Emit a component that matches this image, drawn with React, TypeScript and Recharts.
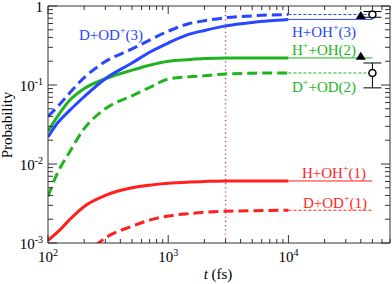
import React from 'react';
import { ComposedChart, Line, XAxis, YAxis, Scatter, ErrorBar, ReferenceLine, Customized } from 'recharts';

// time grid (fs) for the computed curves
const times = [100, 120, 150, 200, 300, 500, 700, 1000, 1500, 2000, 3000, 5000, 7000, 10000];
const hOH3 = [0.022, 0.033, 0.047, 0.071, 0.12, 0.19, 0.26, 0.34, 0.44, 0.49, 0.56, 0.62, 0.65, 0.676];
const dOD3 = [0.04, 0.053, 0.078, 0.124, 0.198, 0.286, 0.37, 0.48, 0.6, 0.65, 0.71, 0.75, 0.77, 0.78];
const hpOH2 = [0.026, 0.04, 0.063, 0.09, 0.12, 0.154, 0.178, 0.2, 0.21, 0.216, 0.22, 0.22, 0.22, 0.22];
const dpOD2 = [0.0039, 0.0077, 0.0139, 0.028, 0.05, 0.073, 0.093, 0.119, 0.127, 0.131, 0.138, 0.141, 0.142, 0.142];
const hOH1 = [0.00108, 0.00137, 0.00195, 0.0029, 0.004, 0.005, 0.0054, 0.0057, 0.0059, 0.006, 0.0061, 0.0061, 0.0061, 0.0061];
const dOD1 = [null, null, null, 0.00069, 0.00116, 0.00163, 0.00195, 0.0022, 0.00236, 0.00245, 0.00253, 0.00256, 0.00258, 0.0026];

// asymptotic extension of each curve
const extTimes = [10000, 50000];

// experimental points
const triangles = [
  { t: 40000, p: 0.77 },
  { t: 40000, p: 0.235 },
];
const circles = [
  { t: 50000, p: 0.78, err: [0.06, 0.07] },
  { t: 50000, p: 0.142, err: [0.05, 0.048] },
];

const xTicks = [100, 200, 300, 400, 500, 600, 700, 800, 900, 1000, 2000, 3000, 4000, 5000, 6000, 7000, 8000, 9000, 10000, 20000, 30000, 40000, 50000, 60000, 70000];
const yTicks = [0.001, 0.002, 0.003, 0.004, 0.005, 0.006, 0.007, 0.008, 0.009, 0.01, 0.02, 0.03, 0.04, 0.05, 0.06, 0.07, 0.08, 0.09, 0.1, 0.2, 0.3, 0.4, 0.5, 0.6, 0.7, 0.8, 0.9, 1];

const BLUE = '#2646ff';
const GREEN = '#1fb41f';
const RED = '#ff1f1f';
const AXIS = '#333';
const FONT = '"Liberation Serif", "Times New Roman", serif';

const series = (vals: (number | null)[]) => times.map((t, i) => ({ t, p: vals[i] }));
const ext = (v: number) => extTimes.map((t) => ({ t, p: v }));

const exponent = (v: number) => Math.round(Math.log10(v));
const isMajor = (v: number) => Math.abs(Math.log10(v) - exponent(v)) < 1e-9;

const BottomTick = (props: any) => {
  const { x, y, payload } = props;
  const v = payload.value;
  const major = isMajor(v);
  return (
    <g>
      <line x1={x} x2={x} y1={y} y2={y - (major ? 8 : 4)} stroke={AXIS} />
      {major && (
        <text x={x} y={y + 19} textAnchor="middle" fontFamily={FONT} fontSize={15} fill="#000">
          10<tspan dy={-6} fontSize={10}>{exponent(v)}</tspan>
        </text>
      )}
    </g>
  );
};

const TopTick = (props: any) => {
  const { x, y, payload } = props;
  const major = isMajor(payload.value);
  return <line x1={x} x2={x} y1={y} y2={y + (major ? 8 : 4)} stroke={AXIS} />;
};

const LeftTick = (props: any) => {
  const { x, y, payload } = props;
  const v = payload.value;
  const major = isMajor(v);
  const e = exponent(v);
  return (
    <g>
      <line x1={x} x2={x + (major ? 9 : 5)} y1={y} y2={y} stroke={AXIS} />
      {major && (
        <text x={x - 5} y={y + 6} textAnchor="end" fontFamily={FONT} fontSize={15} fill="#000">
          {e === 0 ? '1' : <>10<tspan dy={-6} fontSize={10}>{e}</tspan></>}
        </text>
      )}
    </g>
  );
};

const RightTick = (props: any) => {
  const { x, y, payload } = props;
  const major = isMajor(payload.value);
  return <line x1={x} x2={x - (major ? 9 : 5)} y1={y} y2={y} stroke={AXIS} />;
};

const Triangle = (props: any) => {
  const { cx, cy } = props;
  return <polygon points={`${cx - 5},${cy + 4} ${cx + 5},${cy + 4} ${cx},${cy - 4}`} fill="#000" />;
};

const OpenCircle = (props: any) => {
  const { cx, cy } = props;
  return <circle cx={cx} cy={cy} r={3.5} fill="#fff" stroke="#000" strokeWidth={1.5} />;
};

const Lbl = ({ x, y, color, parts }: { x: number; y: number; color: string; parts: [string, string, string] }) => (
  <text x={x} y={y} fontFamily={FONT} fontSize={15} fill={color}>
    {parts[0]}
    <tspan dy={-6} fontSize={10}>{parts[1]}</tspan>
    <tspan dy={6}>{parts[2]}</tspan>
  </text>
);

const Labels = () => (
  <g>
    <Lbl x={79} y={40} color={BLUE} parts={['D+OD', '+', '(3)']} />
    <Lbl x={292} y={37} color={BLUE} parts={['H+OH', '+', '(3)']} />
    <Lbl x={292} y={55} color={GREEN} parts={['H', '+', '+OH(2)']} />
    <Lbl x={292} y={92} color={GREEN} parts={['D', '+', '+OD(2)']} />
    <Lbl x={302} y={178} color={RED} parts={['H+OH', '+', '(1)']} />
    <Lbl x={303} y={208} color={RED} parts={['D+OD', '+', '(1)']} />
    <text x={12} y={125} transform="rotate(-90 12 125)" textAnchor="middle" fontFamily={FONT} fontSize={15} fill="#000">
      Probability
    </text>
    <text x={218} y={279} textAnchor="middle" fontFamily={FONT} fontSize={15} fill="#000">
      <tspan fontStyle="italic">t</tspan> (fs)
    </text>
  </g>
);

const thick = { strokeWidth: 3, dot: false, isAnimationActive: false, type: 'monotone' as const };
const thin = { strokeWidth: 1, dot: false, isAnimationActive: false, type: 'linear' as const };

export default function App() {
  return (
    <div style={{ position: 'absolute', left: 0, top: 0, background: '#fff' }}>
      <ComposedChart width={392} height={284} margin={{ top: 0, right: 0, bottom: 0, left: 8 }}>
        <XAxis
          dataKey="t"
          type="number"
          scale="log"
          domain={[100, 70000]}
          allowDataOverflow
          ticks={xTicks}
          interval={0}
          height={41}
          tickSize={0}
          tickMargin={0}
          stroke={AXIS}
          tick={BottomTick}
        />
        <XAxis
          xAxisId="top"
          orientation="top"
          dataKey="t"
          type="number"
          scale="log"
          domain={[100, 70000]}
          allowDataOverflow
          ticks={xTicks}
          interval={0}
          height={6}
          tickSize={0}
          tickMargin={0}
          stroke={AXIS}
          tick={TopTick}
        />
        <YAxis
          type="number"
          scale="log"
          domain={[0.001, 1]}
          allowDataOverflow
          ticks={yTicks}
          interval={0}
          width={40}
          tickSize={0}
          tickMargin={0}
          stroke={AXIS}
          tick={LeftTick}
        />
        <YAxis
          yAxisId="right"
          orientation="right"
          type="number"
          scale="log"
          domain={[0.001, 1]}
          allowDataOverflow
          ticks={yTicks}
          interval={0}
          width={2}
          tickSize={0}
          tickMargin={0}
          stroke={AXIS}
          tick={RightTick}
        />
        <ReferenceLine x={3000} stroke="#b0507a" strokeDasharray="1.2 3" strokeWidth={1.5} />

        <Line data={ext(0.0026)} dataKey="p" stroke={RED} strokeDasharray="3 2" {...thin} />
        <Line data={ext(0.0061)} dataKey="p" stroke={RED} {...thin} />
        <Line data={ext(0.142)} dataKey="p" stroke={GREEN} strokeDasharray="3 2" {...thin} />
        <Line data={ext(0.22)} dataKey="p" stroke={GREEN} {...thin} />
        <Line data={ext(0.78)} dataKey="p" stroke={BLUE} strokeDasharray="3 2" {...thin} />
        <Line data={ext(0.676)} dataKey="p" stroke={BLUE} {...thin} />

        <Line data={series(dOD1)} dataKey="p" stroke={RED} strokeDasharray="10 5" {...thick} />
        <Line data={series(hOH1)} dataKey="p" stroke={RED} {...thick} />
        <Line data={series(dpOD2)} dataKey="p" stroke={GREEN} strokeDasharray="10 5" {...thick} />
        <Line data={series(hpOH2)} dataKey="p" stroke={GREEN} {...thick} />
        <Line data={series(dOD3)} dataKey="p" stroke={BLUE} strokeDasharray="10 5" {...thick} />
        <Line data={series(hOH3)} dataKey="p" stroke={BLUE} {...thick} />

        <Scatter data={triangles} dataKey="p" shape={Triangle} isAnimationActive={false} />
        <Scatter data={circles} dataKey="p" shape={OpenCircle} isAnimationActive={false}>
          <ErrorBar dataKey="err" direction="y" width={9} stroke="#000" strokeWidth={1} />
        </Scatter>
        <Customized component={Labels} />
      </ComposedChart>
    </div>
  );
}
